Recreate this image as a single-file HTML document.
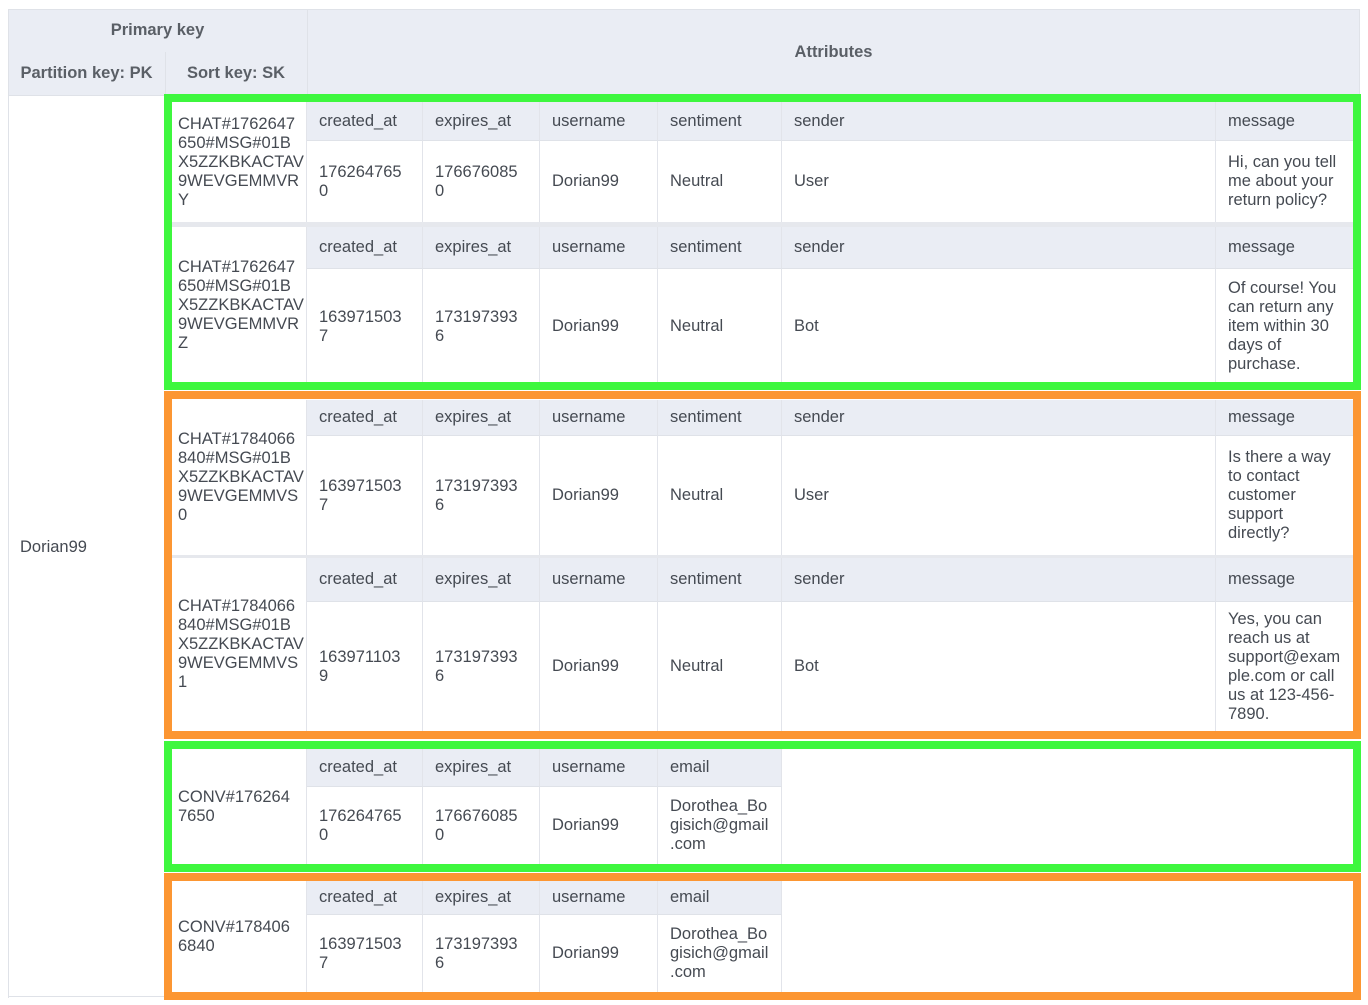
<!DOCTYPE html>
<html><head><meta charset="utf-8"><style>
body{margin:0;width:1368px;height:1005px;background:#fff;position:relative;overflow:hidden;font-family:"Liberation Sans","DejaVu Sans",sans-serif;color:#454a52;font-size:16.5px;}
div{box-sizing:border-box;}
.a{position:absolute;}
.c{position:absolute;display:flex;align-items:center;padding-left:12px;line-height:19px;border-right:1px solid #e2e4ea;white-space:nowrap;}
.h{background:#eaedf4;border-bottom:1px solid #dfe2e8;}
.sk{position:absolute;left:172px;width:135px;padding-left:6px;line-height:19px;background:#fff;border-right:1px solid #e2e4ea;display:flex;align-items:center;white-space:nowrap;}
.b{font-weight:bold;color:#5a5f66;}
.g{border:8px solid #3ef73e;position:absolute;left:164px;width:1197px;}
.o{border:8px solid #fc9632;position:absolute;left:164px;width:1197px;}
</style></head><body>
<!-- header -->
<div class="a" style="left:8px;top:9px;width:1352px;height:87px;background:#eaedf4;border:1px solid #dfe2e8;"></div>
<div class="a" style="left:307px;top:9px;width:1px;height:87px;background:#dfe2e8;"></div>
<div class="a" style="left:165px;top:52px;width:1px;height:44px;background:#dfe2e8;"></div>
<div class="a b" style="left:8px;top:21px;width:299px;text-align:center;">Primary key</div>
<div class="a b" style="left:8px;top:64px;width:157px;text-align:center;">Partition key: PK</div>
<div class="a b" style="left:165px;top:64px;width:142px;text-align:center;">Sort key: SK</div>
<div class="a b" style="left:307px;top:43px;width:1053px;text-align:center;">Attributes</div>
<div class="a" style="left:8px;top:96px;width:1px;height:902px;background:#dfe2e8;"></div>
<div class="a" style="left:20px;top:538px;">Dorian99</div>
<div class="a" style="left:8px;top:996px;width:160px;height:1px;background:#dfe2e8;"></div>

<!-- box backgrounds -->
<div class="a" style="left:172px;top:102px;width:1182px;height:282px;background:#e6e8ed;"></div>
<div class="a" style="left:172px;top:400px;width:1182px;height:331px;background:#e6e8ed;"></div>

<!-- Row1 -->
<div class="sk" style="top:102px;height:120px;">CHAT#1762647<br>650#MSG#01B<br>X5ZZKBKACTAV<br>9WEVGEMMVR<br>Y</div>
<div class="c h" style="left:307px;top:102px;width:116px;height:39px;">created_at</div>
<div class="c h" style="left:423px;top:102px;width:117px;height:39px;">expires_at</div>
<div class="c h" style="left:540px;top:102px;width:118px;height:39px;">username</div>
<div class="c h" style="left:658px;top:102px;width:124px;height:39px;">sentiment</div>
<div class="c h" style="left:782px;top:102px;width:434px;height:39px;">sender</div>
<div class="c h" style="left:1216px;top:102px;width:138px;height:39px;border-right:0;">message</div>
<div class="c" style="left:307px;top:141px;width:116px;height:81px;background:#fff;">176264765<br>0</div>
<div class="c" style="left:423px;top:141px;width:117px;height:81px;background:#fff;">176676085<br>0</div>
<div class="c" style="left:540px;top:141px;width:118px;height:81px;background:#fff;">Dorian99</div>
<div class="c" style="left:658px;top:141px;width:124px;height:81px;background:#fff;">Neutral</div>
<div class="c" style="left:782px;top:141px;width:434px;height:81px;background:#fff;">User</div>
<div class="c" style="left:1216px;top:141px;width:138px;height:81px;background:#fff;border-right:0;">Hi, can you tell<br>me about your<br>return policy?</div>

<!-- Row2 -->
<div class="sk" style="top:227px;height:157px;">CHAT#1762647<br>650#MSG#01B<br>X5ZZKBKACTAV<br>9WEVGEMMVR<br>Z</div>
<div class="c h" style="left:307px;top:227px;width:116px;height:42px;">created_at</div>
<div class="c h" style="left:423px;top:227px;width:117px;height:42px;">expires_at</div>
<div class="c h" style="left:540px;top:227px;width:118px;height:42px;">username</div>
<div class="c h" style="left:658px;top:227px;width:124px;height:42px;">sentiment</div>
<div class="c h" style="left:782px;top:227px;width:434px;height:42px;">sender</div>
<div class="c h" style="left:1216px;top:227px;width:138px;height:42px;border-right:0;">message</div>
<div class="c" style="left:307px;top:269px;width:116px;height:115px;background:#fff;">163971503<br>7</div>
<div class="c" style="left:423px;top:269px;width:117px;height:115px;background:#fff;">173197393<br>6</div>
<div class="c" style="left:540px;top:269px;width:118px;height:115px;background:#fff;">Dorian99</div>
<div class="c" style="left:658px;top:269px;width:124px;height:115px;background:#fff;">Neutral</div>
<div class="c" style="left:782px;top:269px;width:434px;height:115px;background:#fff;">Bot</div>
<div class="c" style="left:1216px;top:269px;width:138px;height:115px;background:#fff;border-right:0;">Of course! You<br>can return any<br>item within 30<br>days of<br>purchase.</div>

<!-- Row3 -->
<div class="sk" style="top:400px;height:155px;">CHAT#1784066<br>840#MSG#01B<br>X5ZZKBKACTAV<br>9WEVGEMMVS<br>0</div>
<div class="c h" style="left:307px;top:400px;width:116px;height:36px;">created_at</div>
<div class="c h" style="left:423px;top:400px;width:117px;height:36px;">expires_at</div>
<div class="c h" style="left:540px;top:400px;width:118px;height:36px;">username</div>
<div class="c h" style="left:658px;top:400px;width:124px;height:36px;">sentiment</div>
<div class="c h" style="left:782px;top:400px;width:434px;height:36px;">sender</div>
<div class="c h" style="left:1216px;top:400px;width:138px;height:36px;border-right:0;">message</div>
<div class="c" style="left:307px;top:436px;width:116px;height:119px;background:#fff;">163971503<br>7</div>
<div class="c" style="left:423px;top:436px;width:117px;height:119px;background:#fff;">173197393<br>6</div>
<div class="c" style="left:540px;top:436px;width:118px;height:119px;background:#fff;">Dorian99</div>
<div class="c" style="left:658px;top:436px;width:124px;height:119px;background:#fff;">Neutral</div>
<div class="c" style="left:782px;top:436px;width:434px;height:119px;background:#fff;">User</div>
<div class="c" style="left:1216px;top:436px;width:138px;height:119px;background:#fff;border-right:0;">Is there a way<br>to contact<br>customer<br>support<br>directly?</div>

<!-- Row4 -->
<div class="sk" style="top:558px;height:173px;">CHAT#1784066<br>840#MSG#01B<br>X5ZZKBKACTAV<br>9WEVGEMMVS<br>1</div>
<div class="c h" style="left:307px;top:558px;width:116px;height:44px;">created_at</div>
<div class="c h" style="left:423px;top:558px;width:117px;height:44px;">expires_at</div>
<div class="c h" style="left:540px;top:558px;width:118px;height:44px;">username</div>
<div class="c h" style="left:658px;top:558px;width:124px;height:44px;">sentiment</div>
<div class="c h" style="left:782px;top:558px;width:434px;height:44px;">sender</div>
<div class="c h" style="left:1216px;top:558px;width:138px;height:44px;border-right:0;">message</div>
<div class="c" style="left:307px;top:602px;width:116px;height:129px;background:#fff;">163971103<br>9</div>
<div class="c" style="left:423px;top:602px;width:117px;height:129px;background:#fff;">173197393<br>6</div>
<div class="c" style="left:540px;top:602px;width:118px;height:129px;background:#fff;">Dorian99</div>
<div class="c" style="left:658px;top:602px;width:124px;height:129px;background:#fff;">Neutral</div>
<div class="c" style="left:782px;top:602px;width:434px;height:129px;background:#fff;">Bot</div>
<div class="c" style="left:1216px;top:602px;width:138px;height:129px;background:#fff;border-right:0;">Yes, you can<br>reach us at<br>support@exam<br>ple.com or call<br>us at 123-456-<br>7890.</div>

<!-- Row5 -->
<div class="sk" style="top:749px;height:115px;">CONV#176264<br>7650</div>
<div class="c h" style="left:307px;top:749px;width:116px;height:38px;">created_at</div>
<div class="c h" style="left:423px;top:749px;width:117px;height:38px;">expires_at</div>
<div class="c h" style="left:540px;top:749px;width:118px;height:38px;">username</div>
<div class="c h" style="left:658px;top:749px;width:124px;height:38px;">email</div>
<div class="c" style="left:307px;top:787px;width:116px;height:77px;">176264765<br>0</div>
<div class="c" style="left:423px;top:787px;width:117px;height:77px;">176676085<br>0</div>
<div class="c" style="left:540px;top:787px;width:118px;height:77px;">Dorian99</div>
<div class="c" style="left:658px;top:787px;width:124px;height:77px;">Dorothea_Bo<br>gisich@gmail<br>.com</div>

<!-- Row6 -->
<div class="sk" style="top:881px;height:111px;">CONV#178406<br>6840</div>
<div class="c h" style="left:307px;top:881px;width:116px;height:34px;">created_at</div>
<div class="c h" style="left:423px;top:881px;width:117px;height:34px;">expires_at</div>
<div class="c h" style="left:540px;top:881px;width:118px;height:34px;">username</div>
<div class="c h" style="left:658px;top:881px;width:124px;height:34px;">email</div>
<div class="c" style="left:307px;top:915px;width:116px;height:77px;">163971503<br>7</div>
<div class="c" style="left:423px;top:915px;width:117px;height:77px;">173197393<br>6</div>
<div class="c" style="left:540px;top:915px;width:118px;height:77px;">Dorian99</div>
<div class="c" style="left:658px;top:915px;width:124px;height:77px;">Dorothea_Bo<br>gisich@gmail<br>.com</div>

<!-- boxes -->
<div class="g" style="top:94px;height:296px;"></div>
<div class="o" style="top:391px;height:348px;"></div>
<div class="g" style="top:741px;height:131px;"></div>
<div class="o" style="top:873px;height:127px;"></div>
</body></html>
